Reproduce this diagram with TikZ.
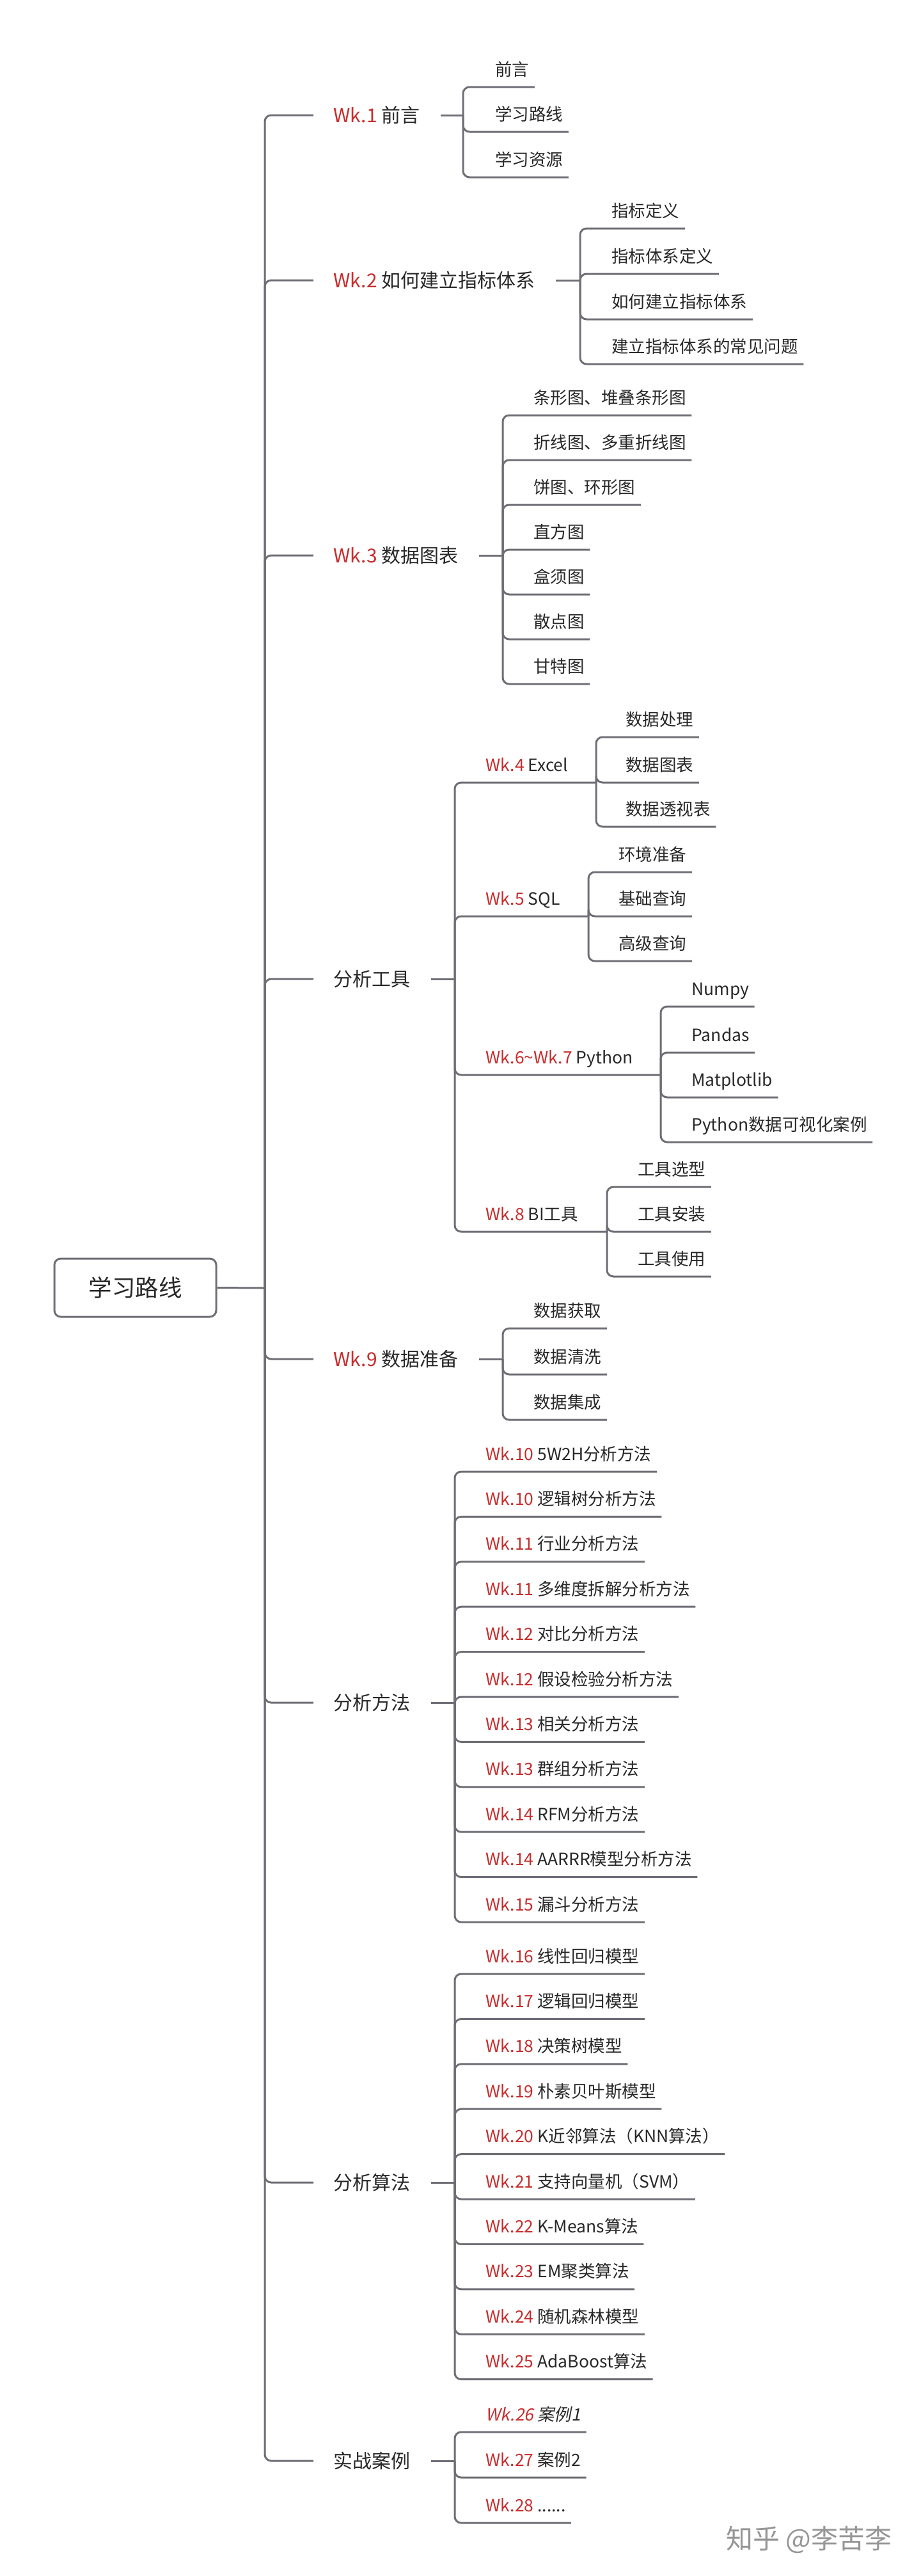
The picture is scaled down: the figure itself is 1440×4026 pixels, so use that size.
\documentclass[tikz,border=0pt]{standalone}
\usepackage{fontspec}
\setmainfont{Noto Sans CJK SC}
\newfontfamily\slantfont{Noto Sans CJK SC}[FakeSlant=0.2]
\usetikzlibrary{calc}
\definecolor{linegray}{RGB}{110,110,118}
\definecolor{wkred}{RGB}{200,45,45}
\definecolor{txtdark}{RGB}{40,40,40}
\definecolor{wmgray}{RGB}{150,150,150}
\newcommand\wk[1]{\textcolor{wkred}{#1}}
\tikzset{
  conn/.style={draw=linegray, line width=1.5pt, rounded corners=5pt},
  toptext/.style={font=\fontsize{15}{18}\selectfont, text=txtdark, inner sep=0pt, anchor=base west},
  leaftext/.style={font=\fontsize{13.25}{16}\selectfont, text=txtdark, inner sep=0pt, anchor=base west},
  rootbox/.style={draw=linegray, line width=1.5pt, rounded corners=5pt, minimum width=126.5pt, minimum height=45.5pt, inner sep=0pt, font=\fontsize{18.25}{22}\selectfont, text=txtdark},
  wmark/.style={font=\fontsize{21}{25}\selectfont, text=wmgray, inner sep=0pt, anchor=west}
}
% leaf: name, junction, text x, underline y, text
\newcommand\leaf[5]{%
  \node[leaftext] (#1) at (#3,#4-18) {#5};
  \draw[conn] (#2) |- ($(#1.base east)+(8,18)$);
}
% top-level topic: name, y, junction x, text
\newcommand\topic[4]{%
  \node[toptext] (#1) at (521,#2+11) {#4};
  \coordinate (#1s) at (490,#2);
  \coordinate (#1j) at (#3,#2);
  \draw[conn] (rootj) |- (#1s);
  \draw[conn] (#1.east |- #1j) ++(32,0) -- (#1j);
}
% second level with own children: name, junction, underline y, child junction x, text
\newcommand\subtopic[5]{%
  \node[leaftext] (#1) at (759,#3-18) {#5};
  \coordinate (#1j) at (#4,#3);
  \draw[conn] (#2) |- (#1j);
}
\begin{document}
\begin{tikzpicture}[x=0.5pt,y=-0.5pt]
\fill[white] (0,0) rectangle (1440,4026);
\useasboundingbox (0,0) rectangle (1440,4026);

% root
\node[rootbox] (root) at (211.5,2012.5) {学习路线};
\coordinate (rootj) at (414,2013);
\draw[conn] (root.east) -- (rootj);

% Wk.1
\topic{ta}{180}{724}{\wk{Wk.1} 前言}
\leaf{ta1}{taj}{774}{136}{前言}
\leaf{ta2}{taj}{774}{206}{学习路线}
\leaf{ta3}{taj}{774}{277}{学习资源}

% Wk.2
\topic{tb}{438}{907}{\wk{Wk.2} 如何建立指标体系}
\leaf{tb1}{tbj}{956}{357}{指标定义}
\leaf{tb2}{tbj}{956}{428}{指标体系定义}
\leaf{tb3}{tbj}{956}{499}{如何建立指标体系}
\leaf{tb4}{tbj}{956}{569}{建立指标体系的常见问题}

% Wk.3
\topic{tc}{868}{786}{\wk{Wk.3} 数据图表}
\leaf{tc1}{tcj}{834}{649}{条形图、堆叠条形图}
\leaf{tc2}{tcj}{834}{719}{折线图、多重折线图}
\leaf{tc3}{tcj}{834}{789}{饼图、环形图}
\leaf{tc4}{tcj}{834}{859}{直方图}
\leaf{tc5}{tcj}{834}{929}{盒须图}
\leaf{tc6}{tcj}{834}{999}{散点图}
\leaf{tc7}{tcj}{834}{1069}{甘特图}

% 分析工具
\topic{td}{1530}{711}{分析工具}
\subtopic{sa}{tdj}{1223}{932}{\wk{Wk.4} Excel}
\leaf{sa1}{saj}{978}{1152}{数据处理}
\leaf{sa2}{saj}{978}{1223}{数据图表}
\leaf{sa3}{saj}{978}{1292}{数据透视表}
\subtopic{sb}{tdj}{1432}{920}{\wk{Wk.5} SQL}
\leaf{sb1}{sbj}{967}{1363}{环境准备}
\leaf{sb2}{sbj}{967}{1432}{基础查询}
\leaf{sb3}{sbj}{967}{1502}{高级查询}
\subtopic{sc}{tdj}{1680}{1033}{\wk{Wk.6\textasciitilde Wk.7} Python}
\leaf{sc1}{scj}{1081}{1573}{Numpy}
\leaf{sc2}{scj}{1081}{1645}{Pandas}
\leaf{sc3}{scj}{1081}{1715}{Matplotlib}
\leaf{sc4}{scj}{1081}{1785}{Python数据可视化案例}
\subtopic{sd}{tdj}{1925}{949}{\wk{Wk.8} BI工具}
\leaf{sd1}{sdj}{997}{1855}{工具选型}
\leaf{sd2}{sdj}{997}{1925}{工具安装}
\leaf{sd3}{sdj}{997}{1995}{工具使用}

% Wk.9
\topic{te}{2124}{786}{\wk{Wk.9} 数据准备}
\leaf{te1}{tej}{834}{2076}{数据获取}
\leaf{te2}{tej}{834}{2148}{数据清洗}
\leaf{te3}{tej}{834}{2219}{数据集成}

% 分析方法
\topic{tf}{2661}{711}{分析方法}
\leaf{tf1}{tfj}{759}{2300}{\wk{Wk.10} 5W2H分析方法}
\leaf{tf2}{tfj}{759}{2370.4}{\wk{Wk.10} 逻辑树分析方法}
\leaf{tf3}{tfj}{759}{2440.8}{\wk{Wk.11} 行业分析方法}
\leaf{tf4}{tfj}{759}{2511.2}{\wk{Wk.11} 多维度拆解分析方法}
\leaf{tf5}{tfj}{759}{2581.6}{\wk{Wk.12} 对比分析方法}
\leaf{tf6}{tfj}{759}{2652}{\wk{Wk.12} 假设检验分析方法}
\leaf{tf7}{tfj}{759}{2722.4}{\wk{Wk.13} 相关分析方法}
\leaf{tf8}{tfj}{759}{2792.8}{\wk{Wk.13} 群组分析方法}
\leaf{tf9}{tfj}{759}{2863.2}{\wk{Wk.14} RFM分析方法}
\leaf{tf10}{tfj}{759}{2933.6}{\wk{Wk.14} AARRR模型分析方法}
\leaf{tf11}{tfj}{759}{3004}{\wk{Wk.15} 漏斗分析方法}

% 分析算法
\topic{tg}{3411}{711}{分析算法}
\leaf{tg1}{tgj}{759}{3085}{\wk{Wk.16} 线性回归模型}
\leaf{tg2}{tgj}{759}{3155.4}{\wk{Wk.17} 逻辑回归模型}
\leaf{tg3}{tgj}{759}{3225.8}{\wk{Wk.18} 决策树模型}
\leaf{tg4}{tgj}{759}{3296.2}{\wk{Wk.19} 朴素贝叶斯模型}
\leaf{tg5}{tgj}{759}{3366.6}{\wk{Wk.20} K近邻算法（KNN算法）}
\leaf{tg6}{tgj}{759}{3437}{\wk{Wk.21} 支持向量机（SVM）}
\leaf{tg7}{tgj}{759}{3507.4}{\wk{Wk.22} K-Means算法}
\leaf{tg8}{tgj}{759}{3577.8}{\wk{Wk.23} EM聚类算法}
\leaf{tg9}{tgj}{759}{3648.2}{\wk{Wk.24} 随机森林模型}
\leaf{tg10}{tgj}{759}{3718.6}{\wk{Wk.25} AdaBoost算法}

% 实战案例
\topic{th}{3846}{711}{实战案例}
\leaf{th1}{thj}{759}{3801}{{\slantfont\wk{Wk.26} 案例1}}
\leaf{th2}{thj}{759}{3872}{\wk{Wk.27} 案例2}
\leaf{th3}{thj}{759}{3943}{\wk{Wk.28} ......}

% watermark
\node[wmark] (wm) at (1135,3969) {知乎 @李苦李};
\end{tikzpicture}
\end{document}
